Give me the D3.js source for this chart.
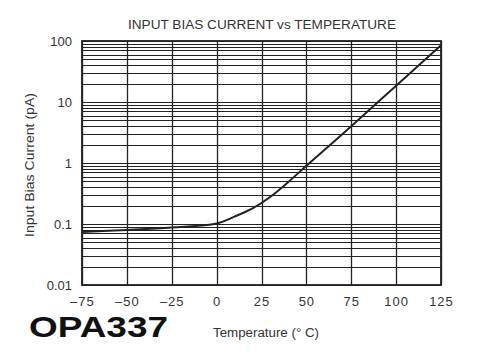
<!DOCTYPE html>
<html>
<head>
<meta charset="utf-8">
<script src="https://cdn.jsdelivr.net/npm/d3@7"></script>
<style>
  body { margin: 0; background: #fff; }
  svg { display: block; font-family: "Liberation Sans", Arial, sans-serif; }
</style>
</head>
<body>
<div id="chart"></div>
<script>
// data
const temps = [-75, -50, -25, 0, 10, 20, 30, 40, 50, 75, 100, 125];
const biasPA = [0.074, 0.08, 0.088, 0.102, 0.132, 0.18, 0.28, 0.49, 0.9, 4.0, 18.5, 85];
const xTicks = [-75, -50, -25, 0, 25, 50, 75, 100, 125];
const yTicks = [0.01, 0.1, 1, 10, 100];
const yTickLabels = ["0.01", "0.1", "1", "10", "100"];

const width = 480, height = 352;
const margin = {top: 41, right: 39, bottom: 67, left: 82};

const svg = d3.select("#chart").append("svg")
  .attr("width", width)
  .attr("height", height);

const x = d3.scaleLinear()
  .domain([-75, 125])
  .range([margin.left, width - margin.right]);

const y = d3.scaleLog()
  .domain([0.01, 100])
  .range([height - margin.bottom, margin.top]);

// horizontal grid: every 1..9 within each decade
let minor = [];
for (let d = 0.01; d < 100; d *= 10) {
  for (let k = 1; k < 10; k++) minor.push(+(d * k).toPrecision(3));
}
minor.push(100);

svg.append("g")
  .selectAll("line")
  .data(minor)
  .enter().append("line")
  .attr("x1", x(-75)).attr("x2", x(125))
  .attr("y1", d => Math.round(y(d)) + 0.5)
  .attr("y2", d => Math.round(y(d)) + 0.5)
  .attr("stroke", "#222")
  .attr("stroke-width", 1.1);

// vertical grid
svg.append("g")
  .selectAll("line")
  .data(xTicks)
  .enter().append("line")
  .attr("x1", d => Math.round(x(d)) + 0.5)
  .attr("x2", d => Math.round(x(d)) + 0.5)
  .attr("y1", y(100)).attr("y2", y(0.01))
  .attr("stroke", "#222")
  .attr("stroke-width", 1.3);

// frame
svg.append("rect")
  .attr("x", x(-75)).attr("y", y(100))
  .attr("width", x(125) - x(-75))
  .attr("height", y(0.01) - y(100))
  .attr("fill", "none")
  .attr("stroke", "#222")
  .attr("stroke-width", 1.8);

// curve
const line = d3.line()
  .x((d, i) => x(temps[i]))
  .y(d => y(d))
  .curve(d3.curveCatmullRom.alpha(0.5));

svg.append("path")
  .datum(biasPA)
  .attr("d", line)
  .attr("fill", "none")
  .attr("stroke", "#222")
  .attr("stroke-width", 2);

// tick labels
svg.append("g")
  .selectAll("text")
  .data(yTicks)
  .enter().append("text")
  .attr("x", 72)
  .attr("y", d => y(d))
  .attr("dy", "0.36em")
  .attr("text-anchor", "end")
  .attr("font-size", 13)
  .attr("fill", "#333")
  .text((d, i) => yTickLabels[i]);

svg.append("g")
  .selectAll("text")
  .data(xTicks)
  .enter().append("text")
  .attr("x", d => x(d) + 0.5)
  .attr("y", 306)
  .attr("text-anchor", "middle")
  .attr("font-size", 13)
  .attr("letter-spacing", 1)
  .attr("fill", "#333")
  .text(d => d < 0 ? "\u2013" + Math.abs(d) : d);

// titles
svg.append("text")
  .attr("x", 128)
  .attr("y", 29)
  .attr("font-size", 12)
  .attr("textLength", 268)
  .attr("lengthAdjust", "spacingAndGlyphs")
  .attr("fill", "#333")
  .text("INPUT BIAS CURRENT vs TEMPERATURE");

svg.append("text")
  .attr("x", 213)
  .attr("y", 337)
  .attr("font-size", 12)
  .attr("textLength", 106)
  .attr("lengthAdjust", "spacingAndGlyphs")
  .attr("fill", "#333")
  .text("Temperature (\u00B0 C)");

svg.append("text")
  .attr("transform", "translate(34,237) rotate(-90)")
  .attr("font-size", 12.5)
  .attr("textLength", 144)
  .attr("lengthAdjust", "spacingAndGlyphs")
  .attr("fill", "#333")
  .text("Input Bias Current (pA)");

svg.append("text")
  .attr("x", 29)
  .attr("y", 337)
  .attr("font-size", 30)
  .attr("font-weight", "bold")
  .attr("textLength", 139)
  .attr("lengthAdjust", "spacingAndGlyphs")
  .attr("fill", "#111")
  .text("OPA337");
</script>
</body>
</html>
